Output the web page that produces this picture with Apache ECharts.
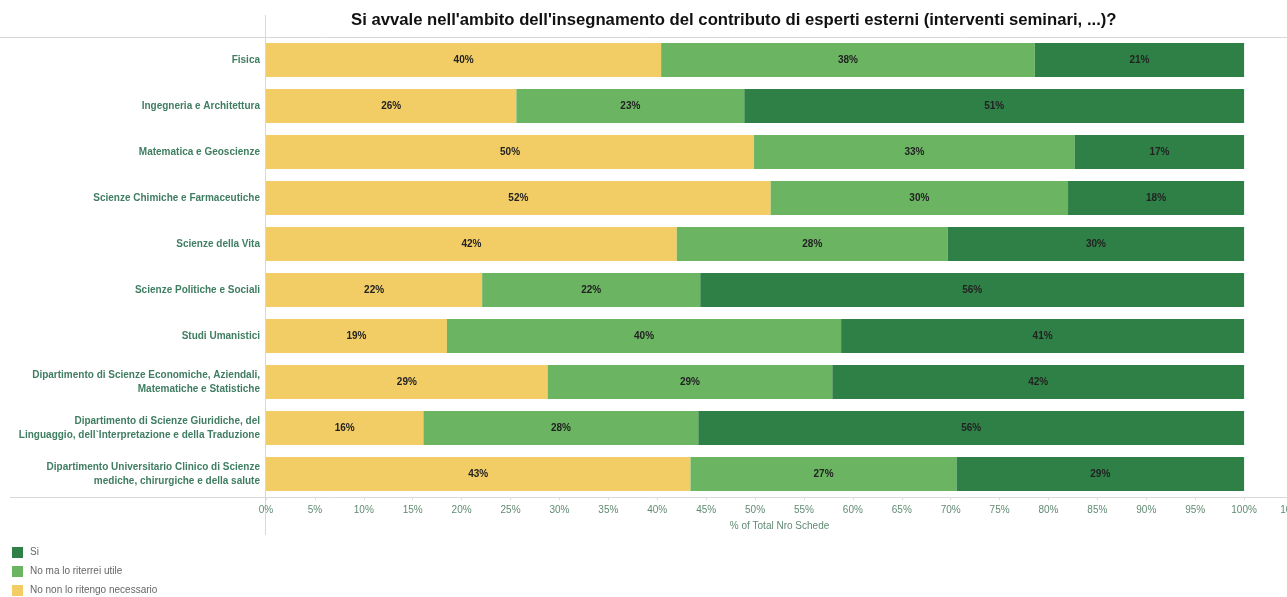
<!DOCTYPE html>
<html>
<head>
<meta charset="utf-8">
<script src="https://cdn.jsdelivr.net/npm/echarts@6/dist/echarts.min.js"></script>
<style>
html,body{margin:0;padding:0;background:#fff;}
#chart{width:1287px;height:597px;}
</style>
</head>
<body>
<div id="chart"></div>
<script>
const categories = [
  "Fisica",
  "Ingegneria e Architettura",
  "Matematica e Geoscienze",
  "Scienze Chimiche e Farmaceutiche",
  "Scienze della Vita",
  "Scienze Politiche e Sociali",
  "Studi Umanistici",
  "Dipartimento di Scienze Economiche, Aziendali,\nMatematiche e Statistiche",
  "Dipartimento di Scienze Giuridiche, del\nLinguaggio, dell`Interpretazione e della Traduzione",
  "Dipartimento Universitario Clinico di Scienze\nmediche, chirurgiche e della salute"
];
const noNonNecessario = [40.4, 25.6, 49.9, 51.6, 42.0, 22.1, 18.5, 28.8, 16.1, 43.4];
const noMaUtile       = [38.2, 23.3, 32.8, 30.4, 27.7, 22.3, 40.3, 29.1, 28.1, 27.2];
const si              = [21.4, 51.1, 17.3, 18.0, 30.3, 55.6, 41.2, 42.1, 55.8, 29.4];
const seriesNames = ["No non lo ritengo necessario", "No ma lo riterrei utile", "Si"];
const legendOrder = ["Si", "No ma lo riterrei utile", "No non lo ritengo necessario"];
const colors = ["#F2CD65", "#6AB462", "#2F8046"];

const chart = echarts.init(document.getElementById('chart'));
const font = 'Arial, "Liberation Sans", sans-serif';
const lbl = {
  show: true, position: 'inside', color: '#222', fontSize: 10, fontWeight: 'bold',
  fontFamily: font,
  formatter: p => Math.round(p.value) + '%'
};
const dataSets = [noNonNecessario, noMaUtile, si];
chart.setOption({
  animation: false,
  backgroundColor: '#fff',
  title: {
    text: "Si avvale nell'ambito dell'insegnamento del contributo di esperti esterni (interventi seminari, ...)?",
    left: 346, top: 7,
    textStyle: { fontSize: 16.7, fontWeight: 'bold', color: '#111', fontFamily: font }
  },
  legend: {
    data: legendOrder,
    orient: 'vertical', left: 12, top: 547, padding: 0,
    itemWidth: 11, itemHeight: 11, itemGap: 8,
    icon: 'rect',
    textStyle: { fontSize: 10, color: '#666', fontFamily: font, padding: [0, 0, 0, 2] }
  },
  grid: { left: 266, right: -6, top: 37, bottom: 100, containLabel: false, outerBoundsMode: 'none' },
  xAxis: {
    type: 'value', min: 0, max: 105, interval: 5,
    name: '% of Total Nro Schede', nameLocation: 'middle', nameGap: 24,
    nameTextStyle: { fontSize: 10, color: '#5f8a72', fontFamily: font },
    axisLine: { show: false },
    axisTick: { show: true, length: 3, lineStyle: { color: '#ddd' } },
    splitLine: { show: false },
    axisLabel: { formatter: '{value}%', fontSize: 10, color: '#5f8a72', margin: 8, fontFamily: font }
  },
  yAxis: {
    type: 'category', data: categories, inverse: true,
    axisLine: { show: false }, axisTick: { show: false },
    axisLabel: { fontSize: 10, fontWeight: 'bold', color: '#3f7d62', margin: 6, lineHeight: 14, fontFamily: font }
  },
  graphic: [
    { type: 'line', shape: { x1: 0, y1: 37.5, x2: 1287, y2: 37.5 }, style: { stroke: '#d8d8d8', lineWidth: 1 }, z: 0 },
    { type: 'line', shape: { x1: 10, y1: 497.5, x2: 1287, y2: 497.5 }, style: { stroke: '#d8d8d8', lineWidth: 1 }, z: 0 },
    { type: 'line', shape: { x1: 265.5, y1: 15, x2: 265.5, y2: 535 }, style: { stroke: '#d8d8d8', lineWidth: 1 }, z: 0 }
  ],
  series: seriesNames.map((n, i) => ({
    name: n, type: 'bar', stack: 'total', barWidth: 34,
    itemStyle: { color: colors[i] },
    label: lbl,
    data: dataSets[i]
  }))
});
</script>
</body>
</html>
